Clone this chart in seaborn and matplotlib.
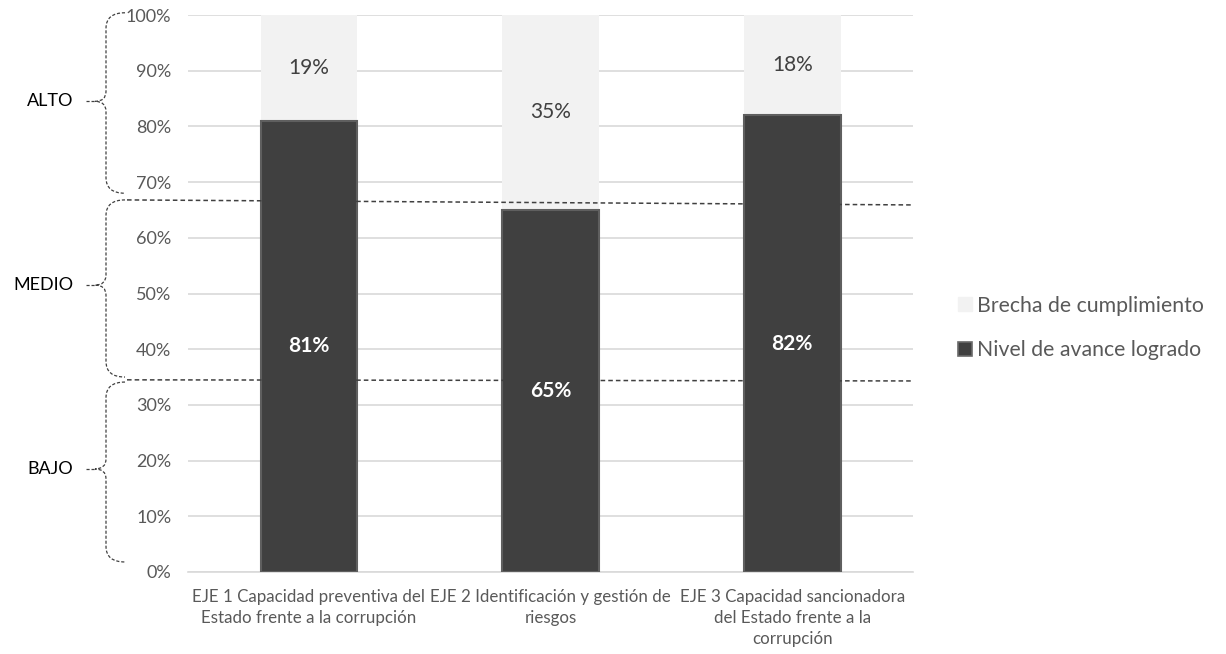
import matplotlib
matplotlib.use("Agg")
import matplotlib.pyplot as plt
import seaborn as sns
import pandas as pd
from matplotlib.path import Path
from matplotlib.patches import PathPatch, Patch

# ---- data ----
categories = [
    "EJE 1 Capacidad preventiva del\nEstado frente a la corrupción",
    "EJE 2 Identificación y gestión de\nriesgos",
    "EJE 3 Capacidad sancionadora\ndel Estado frente a la\ncorrupción",
]
achieved = [81, 65, 82]
gap = [19, 35, 18]
series_names = ["Brecha de cumplimiento", "Nivel de avance logrado"]
y_ticks = [0, 10, 20, 30, 40, 50, 60, 70, 80, 90, 100]
level_names = ["ALTO", "MEDIO", "BAJO"]
level_ranges = [(100.4, 68.0), (66.8, 35.0), (34.1, 1.8)]
level_mid = [84.5, 51.5, 18.5]
threshold_left = [66.8, 34.5]
threshold_right = [65.9, 34.3]

DARK = "#404040"
LIGHT = "#f2f2f2"
GRAY = "#595959"

sns.set_theme(style="white")
plt.rcParams["font.family"] = ["Lato", "DejaVu Sans"]

fig = plt.figure(figsize=(12.26, 6.54), dpi=100)
ax = fig.add_axes([188 / 1226, 82 / 654, 725 / 1226, 557 / 654])

df = pd.DataFrame({"cat": categories,
                   "total": [a + g for a, g in zip(achieved, gap)],
                   "achieved": achieved})

sns.barplot(data=df, x="cat", y="total", color=LIGHT, saturation=1,
            width=0.4, linewidth=0, ax=ax, zorder=2)
sns.barplot(data=df, x="cat", y="achieved", color=DARK, saturation=1,
            width=0.4, edgecolor="#5f5f5f", linewidth=1.5, ax=ax, zorder=3)

ax.set_ylim(0, 100)
ax.set_xlim(-0.5, len(categories) - 0.5)
ax.set_yticks(y_ticks)
ax.set_yticklabels([f"{t}%" for t in y_ticks], color=GRAY, fontsize=13)
ax.set_xlabel("")
ax.set_ylabel("")
ax.yaxis.grid(True, color="#d9d9d9", linewidth=1.2, zorder=0)
ax.set_axisbelow(True)
for s in ["left", "right", "top"]:
    ax.spines[s].set_visible(False)
ax.spines["bottom"].set_color("#d9d9d9")
ax.spines["bottom"].set_linewidth(1.2)
ax.tick_params(axis="y", length=0, pad=12)
ax.tick_params(axis="x", which="major", length=0, pad=12, labelsize=12.2,
               labelcolor=GRAY)
ax.set_xticks(range(len(categories)))
ax.set_xticklabels(categories, multialignment="center", linespacing=1.38)
ax.set_xticks([i - 0.5 for i in range(len(categories) + 1)], minor=True)
ax.tick_params(axis="x", which="minor", length=5, width=1.2, color="#d9d9d9",
               direction="out")

# value labels
for i, (a, g) in enumerate(zip(achieved, gap)):
    ax.text(i, a / 2, f"{a}%", ha="center", va="center", color="white",
            fontsize=15, fontweight="bold", zorder=5)
    ax.text(i, a + g / 2, f"{g}%", ha="center", va="center", color=DARK,
            fontsize=15, zorder=5)

# threshold dashed lines
ytr = ax.get_yaxis_transform()
x_line_start = (127 - 188) / 725
for yl, yr in zip(threshold_left, threshold_right):
    ax.plot([x_line_start, 1.0], [yl, yr], transform=ytr, color=DARK,
            linestyle=(0, (3, 2)), linewidth=1.1, clip_on=False, zorder=4)

# braces
x_end = (125 - 188) / 725
x_v = (106 - 188) / 725
x_tip = (95 - 188) / 725
x_dash = (86 - 188) / 725
x_lab = (73 - 188) / 725
r = 2.8
r2 = 1.8
for name, (top, bot), mid in zip(level_names, level_ranges, level_mid):
    verts = [(x_end, top), (x_v, top), (x_v, top - r),
             (x_v, mid + r2), (x_v, mid), (x_tip, mid),
             (x_v, mid), (x_v, mid - r2),
             (x_v, bot + r), (x_v, bot), (x_end, bot)]
    codes = [Path.MOVETO, Path.CURVE3, Path.CURVE3,
             Path.LINETO, Path.CURVE3, Path.CURVE3,
             Path.CURVE3, Path.CURVE3,
             Path.LINETO, Path.CURVE3, Path.CURVE3]
    patch = PathPatch(Path(verts, codes), transform=ytr, fill=False,
                      edgecolor=DARK, linewidth=0.9, linestyle=(0, (2.5, 1.5)),
                      clip_on=False)
    ax.add_patch(patch)
    ax.plot([x_dash, x_tip], [mid, mid], transform=ytr, color=DARK,
            linewidth=0.9, linestyle=(0, (2.5, 1.5)), clip_on=False)
    ax.text(x_lab, mid, name, transform=ytr, ha="right", va="center",
            fontsize=13, color="black")

# legend
handles = [Patch(facecolor=LIGHT, edgecolor=LIGHT),
           Patch(facecolor=DARK, edgecolor="#6a6a6a", linewidth=1.2)]
leg = fig.legend(handles, series_names, loc="center left",
                 bbox_to_anchor=(939 / 1226, 1 - 328 / 654), frameon=False,
                 fontsize=15.3, labelcolor=GRAY, handlelength=0.65,
                 handleheight=0.65, handletextpad=0.25, labelspacing=1.15)

fig.savefig("out.png", dpi=100)
